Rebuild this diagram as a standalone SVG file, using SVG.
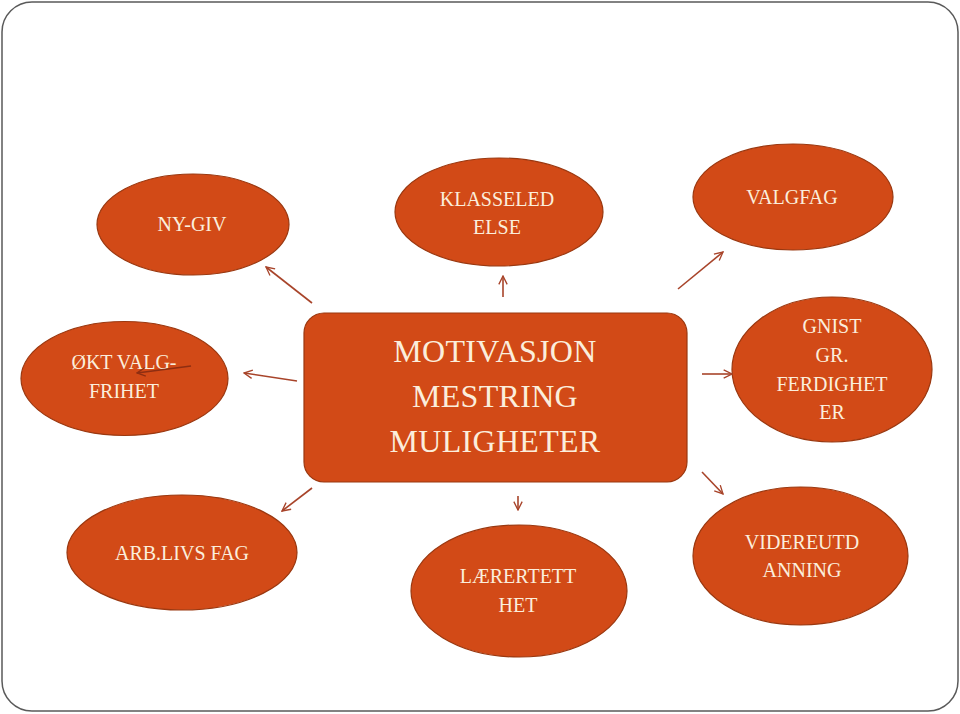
<svg xmlns="http://www.w3.org/2000/svg" width="960" height="714" viewBox="0 0 960 714">
<style>
.node{fill:#D24A17;stroke:#9A3810;stroke-width:1.2}
.t{font-family:"Liberation Serif","Times New Roman",serif;fill:#FBEEDC;text-anchor:middle;font-size:20px}
.big{font-size:32px;letter-spacing:0.3px}
.con line{stroke:#A8442A;stroke-width:1.6;fill:none;marker-end:url(#arr)}
.con line.dk{stroke:#8E2E12;marker-end:url(#arr2)}
</style>
<defs>
<marker id="arr" viewBox="0 0 12 12" refX="11" refY="6" markerWidth="10" markerHeight="10" markerUnits="userSpaceOnUse" orient="auto">
<path d="M1,1 L11,6 L1,11" fill="none" stroke="#A8442A" stroke-width="1.6"/>
</marker>
<marker id="arr2" viewBox="0 0 12 12" refX="11" refY="6" markerWidth="10" markerHeight="10" markerUnits="userSpaceOnUse" orient="auto">
<path d="M1,1 L11,6 L1,11" fill="none" stroke="#8E2E12" stroke-width="1.6"/>
</marker>
</defs>
<rect x="2" y="2" width="956" height="709" rx="30" fill="#fff" stroke="#5a5a5a" stroke-width="1.5"/>
<g id="center">
<rect class="node" x="304" y="313" width="383" height="169" rx="20"/>
<text class="t big" x="495" y="362">MOTIVASJON</text>
<text class="t big" x="495" y="407">MESTRING</text>
<text class="t big" x="495" y="452">MULIGHETER</text>
</g>
<g id="nygiv">
<ellipse class="node" cx="193" cy="224.5" rx="96" ry="50.5"/>
<text class="t" x="192" y="231">NY-GIV</text>
</g>
<g id="klasseledelse">
<ellipse class="node" cx="499" cy="212" rx="104" ry="54"/>
<text class="t" x="497" y="206">KLASSELED</text>
<text class="t" x="497" y="234">ELSE</text>
</g>
<g id="valgfag">
<ellipse class="node" cx="793" cy="197" rx="100" ry="53"/>
<text class="t" x="792" y="204">VALGFAG</text>
</g>
<g id="oktvalgfrihet">
<ellipse class="node" cx="124.5" cy="378.5" rx="103.5" ry="57"/>
<text class="t" x="124" y="369">ØKT VALG-</text>
<text class="t" x="124" y="398">FRIHET</text>
</g>
<g id="gnist">
<ellipse class="node" cx="832" cy="369.5" rx="100" ry="72.5"/>
<text class="t" x="832" y="333">GNIST</text>
<text class="t" x="832" y="362">GR.</text>
<text class="t" x="832" y="391">FERDIGHET</text>
<text class="t" x="832" y="419">ER</text>
</g>
<g id="arblivsfag">
<ellipse class="node" cx="182" cy="552.5" rx="115" ry="57.5"/>
<text class="t" x="182" y="560">ARB.LIVS FAG</text>
</g>
<g id="laerertetthet">
<ellipse class="node" cx="519" cy="591" rx="108" ry="66"/>
<text class="t" x="518" y="583">LÆRERTETT</text>
<text class="t" x="518" y="612">HET</text>
</g>
<g id="videreutdanning">
<ellipse class="node" cx="800.5" cy="556" rx="107.5" ry="69"/>
<text class="t" x="802" y="549">VIDEREUTD</text>
<text class="t" x="802" y="577">ANNING</text>
</g>
<g id="connectors" class="con">
<line x1="312" y1="303" x2="266" y2="267"/>
<line x1="503" y1="297" x2="503" y2="276"/>
<line x1="678" y1="289" x2="723" y2="252"/>
<line x1="297" y1="381" x2="244" y2="373"/>
<line class="dk" x1="191" y1="366" x2="137" y2="373"/>
<line x1="702" y1="374" x2="732" y2="374"/>
<line x1="312" y1="488" x2="282" y2="511"/>
<line x1="518" y1="496" x2="518" y2="510"/>
<line x1="702" y1="472" x2="723" y2="494"/>
</g>
</svg>
